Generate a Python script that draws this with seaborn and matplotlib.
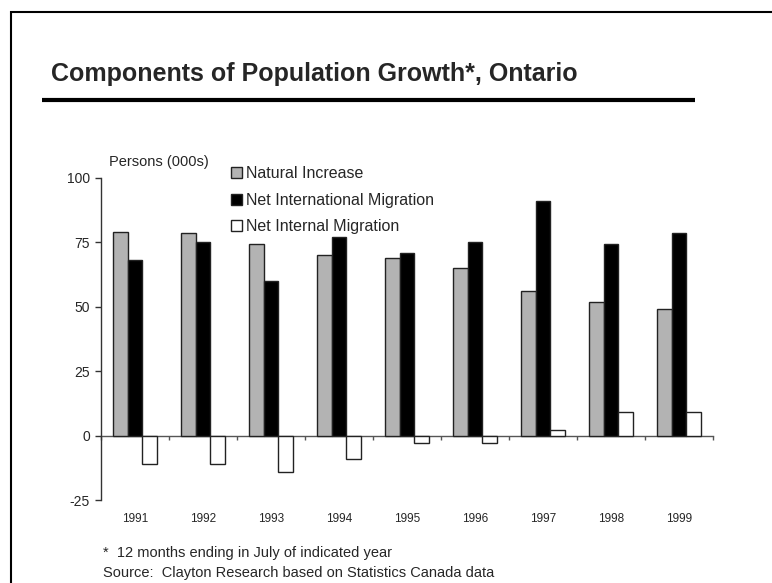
import matplotlib
matplotlib.use("Agg")
import matplotlib.pyplot as plt
from matplotlib.lines import Line2D
from matplotlib.patches import Patch
import numpy as np
import pandas as pd
import seaborn as sns

# Components of population growth, Ontario (thousands of persons)
years = ["1991", "1992", "1993", "1994", "1995", "1996", "1997", "1998", "1999"]
natural_increase = [79, 78.5, 74.5, 70, 69, 65, 56, 52, 49]
net_international = [68, 75, 60, 77, 71, 75, 91, 74.5, 78.5]
net_internal = [-11, -11, -14, -9, -3, -3, 2, 9, 9]

components = ["Natural Increase", "Net International Migration", "Net Internal Migration"]
colors = ["#b3b3b3", "#000000", "#ffffff"]
y_ticks = [-25, 0, 25, 50, 75, 100]

df = pd.DataFrame({
    "year": years * 3,
    "value": natural_increase + net_international + net_internal,
    "component": [components[0]] * 9 + [components[1]] * 9 + [components[2]] * 9,
})

sns.set_theme(style="white")
plt.rcParams["font.family"] = ["Liberation Sans", "DejaVu Sans"]

W, H = 772, 583
fig = plt.figure(figsize=(W / 100, H / 100), dpi=100)


def fx(px):
    return px / W


def fy(py):
    return 1 - py / H


ax = fig.add_axes([fx(101), fy(500), (713 - 101) / W, (500 - 178) / H])

sns.barplot(
    data=df, x="year", y="value", hue="component", order=years,
    hue_order=components, palette=colors, width=0.66, gap=0,
    edgecolor="#222222", linewidth=1.0, legend=False, ax=ax, errorbar=None,
)

ymin, ymax = y_ticks[0], y_ticks[-1]
ax.set_ylim(ymin, ymax)
ax.set_xlim(-0.5, len(years) - 0.5)
ax.set_yticks(y_ticks)
ax.set_yticklabels([str(t) for t in y_ticks], fontsize=10)
ax.tick_params(axis="y", direction="out", length=4, width=1, color="#333333",
               pad=4, left=True)
ax.set_xlabel("")
ax.set_ylabel("")

# category labels sit below the plot area; the zero line carries the boundary ticks
ax.set_xticks(range(len(years)))
ax.set_xticklabels(years, fontsize=8.5)
ax.tick_params(axis="x", length=0, pad=9.5)
for side in ["top", "right", "bottom"]:
    ax.spines[side].set_visible(False)
ax.spines["left"].set_color("#333333")
ax.spines["left"].set_linewidth(1.0)

zero_frac = (0 - ymin) / (ymax - ymin)
zero_axis = ax.secondary_xaxis(zero_frac)
zero_axis.set_xticks(np.arange(-0.5, len(years), 1.0))
zero_axis.set_xticklabels([])
zero_axis.tick_params(direction="out", length=3, width=1, color="#555555")
zero_axis.spines["bottom"].set_color("#555555")
zero_axis.spines["bottom"].set_linewidth(1.0)

fig.text(fx(109), fy(166), "Persons (000s)", fontsize=10.5,
         va="baseline", ha="left")

handles = [Patch(facecolor=c, edgecolor="#222222", linewidth=1.0) for c in colors]
fig.legend(handles, components, loc="upper left",
           bbox_to_anchor=(fx(230.5), fy(166.5)), frameon=False, fontsize=11.5,
           handlelength=0.69, handleheight=0.69, handletextpad=0.26,
           labelspacing=0.7, borderpad=0, borderaxespad=0)

# heading, rule and page frame
fig.text(fx(51), fy(80.5), "Components of Population Growth*, Ontario",
         fontsize=18, fontweight="bold", va="baseline", ha="left")
fig.add_artist(Line2D([fx(42), fx(695)], [fy(100), fy(100)],
                      color="black", linewidth=3, solid_capstyle="butt"))
fig.add_artist(Line2D([fx(11), fx(11)], [0, fy(11)],
                      color="black", linewidth=1.5, solid_capstyle="butt"))
fig.add_artist(Line2D([fx(10), 1], [fy(12), fy(12)],
                      color="black", linewidth=1.5, solid_capstyle="butt"))

fig.text(fx(103), fy(557), "*  12 months ending in July of indicated year",
         fontsize=10.5, va="baseline", ha="left")
fig.text(fx(103), fy(577.5), "Source:  Clayton Research based on Statistics Canada data",
         fontsize=10.5, va="baseline", ha="left")

fig.savefig("out.png", dpi=100)
